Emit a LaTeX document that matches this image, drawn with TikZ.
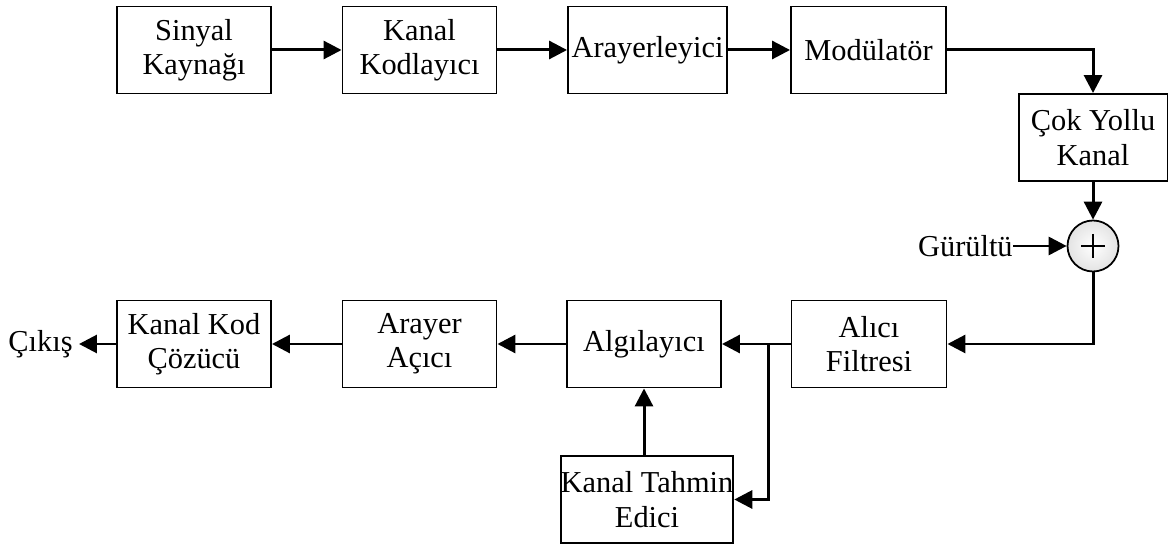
\documentclass[tikz,border=0pt]{standalone}
\usepackage{fontspec}
\setmainfont{Liberation Serif}
\usetikzlibrary{arrows.meta,calc}

\begin{document}
\begin{tikzpicture}[x=0.02cm,y=-0.02cm,font=\fontsize{17.3}{19.5}\selectfont,
    blok/.style={draw,line width=1.1pt,minimum width=3.08cm,minimum height=1.74cm,align=center,inner sep=1pt},
    ok/.style={line width=1.7pt,-{Triangle[length=0.36cm,width=0.36cm]}}]
            \useasboundingbox (0,0) rectangle (1168,546);
            % verici
            \node [blok] (kaynak) at (194, 50) {Sinyal\\Kaynağı};%
            \node [blok] (kodlayici) at (419.5, 50) {Kanal\\Kodlayıcı};%
            \node [blok,minimum width=3.18cm] (arayerleyici) at (647.5, 50) {Arayerleyici};%
            \node [blok,minimum width=3.1cm] (modulator) at (868.5, 50) {Modülatör};%
            \node [blok,minimum width=2.98cm] (kanal) at (1093, 137.5) {Çok Yollu\\Kanal};%
            \node [draw,circle,line width=1pt,minimum size=1.02cm,inner color=white,outer color=gray!22] (topla) at (1093, 246) {};%
            \draw [line width=1.1pt] ($(topla)+(-12,0)$) to ($(topla)+(12,0)$);
            \draw [line width=1.1pt] ($(topla)+(0,-12)$) to ($(topla)+(0,12)$);
            \node [inner sep=0pt,anchor=east] (gurultu) at (1013, 246) {Gürültü};%
            % alici
            \node [blok,minimum width=3.1cm] (filtre) at (869, 344) {Alıcı\\Filtresi};%
            \node [blok] (algilayici) at (644, 344) {Algılayıcı};%
            \node [blok] (acici) at (419.5, 344) {Arayer\\Açıcı};%
            \node [blok] (cozucu) at (194, 344) {Kanal Kod\\Çözücü};%
            \node [inner sep=0pt,anchor=east] (cikis) at (73, 344) {Çıkış};%
            \node [blok,minimum width=3.4cm,inner sep=0pt] (tahmin) at (647, 499.5) {Kanal Tahmin\\Edici};%
            \coordinate (dal) at (768, 344);
            \draw[ok] (kaynak) to (kodlayici);
            \draw[ok] (kodlayici) to (arayerleyici);
            \draw[ok] (arayerleyici) to (modulator);
            \draw[ok] (modulator) -| (kanal);
            \draw[ok] (kanal) to (topla);
            \draw[ok] (gurultu) to (topla);
            \draw[ok] (topla) |- (filtre);
            \draw[ok] (filtre) to (algilayici);
            \draw[ok] (dal) |- (tahmin);
            \draw[ok] (algilayici.south |- tahmin.north) to (algilayici.south);
            \draw[ok] (algilayici) to (acici);
            \draw[ok] (acici) to (cozucu);
            \draw[ok] (cozucu) to ($(cikis.east)+(6,0)$);
        \end{tikzpicture}
\end{document}
